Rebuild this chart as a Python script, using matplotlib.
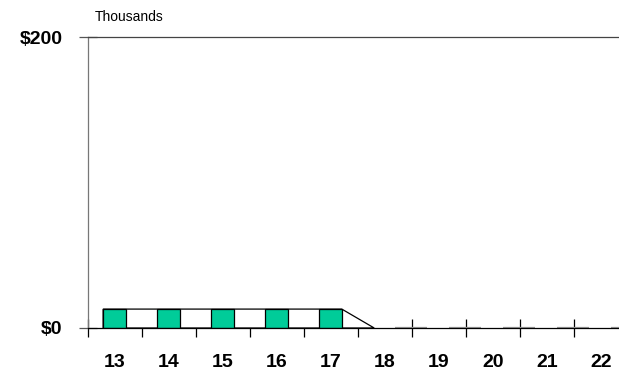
import matplotlib
matplotlib.use('Agg')
import matplotlib.pyplot as plt
import numpy as np

categories = ['13', '14', '15', '16', '17', '18', '19', '20', '21', '22']
green_values = [13, 13, 13, 13, 13, 0, 0, 0, 0, 0]
white_values = [13, 13, 13, 13, 13, 0, 0, 0, 0, 0]
y_ticks = [0, 200]
y_tick_labels = ['$0', '$200']
unit_label = 'Thousands'

plt.rcParams['font.family'] = ['Liberation Sans', 'DejaVu Sans']

fig = plt.figure(figsize=(6.19, 3.75), dpi=100)
ax = fig.add_axes([88/619, 47/375, 540/619, 291/375])
x = np.arange(len(categories))

# white outlined series behind the green bars
nz = [i for i, v in enumerate(white_values) if v > 0]
first, last = nz[0], nz[-1]
v = white_values[last]
ax.fill([x[first]-0.22, x[first]-0.22, x[last]+0.2, x[last]+0.8],
        [0, white_values[first], v, 0],
        facecolor='white', edgecolor='black', linewidth=0.9, zorder=2)
zero_idx = [i for i, v in enumerate(white_values) if v == 0]
ax.bar(x[zero_idx]+0.18, [white_values[i] for i in zero_idx], width=0.6, align='edge',
       color='white', edgecolor='#9a9a9a', linewidth=1.6, zorder=2)

gi = [i for i, v in enumerate(green_values) if v > 0]
ax.bar(x[gi]-0.22, [green_values[i] for i in gi], width=0.42, align='edge',
       color='#00CC99', edgecolor='black', linewidth=0.9, zorder=3)

ax.set_xlim(-0.5, len(categories)-0.5)
ax.set_ylim(0, 200)

ax.set_xticks(np.arange(len(categories)+1)-0.5)
ax.set_xticklabels([])
ax.set_xticks(x, minor=True)
ax.set_xticklabels(categories, minor=True, fontsize=14, fontweight='bold')
ax.tick_params(axis='x', which='major', direction='inout', length=13, width=0.9, color='black')
ax.tick_params(axis='x', which='minor', length=0, pad=19)

ax.set_yticks(y_ticks)
ax.set_yticklabels(y_tick_labels, fontsize=14, fontweight='bold')
ax.tick_params(axis='y', direction='inout', length=13, width=0.9, color='#555555', pad=12)

ax.spines['right'].set_visible(False)
ax.spines['left'].set_color('#777777')
ax.spines['top'].set_color('#444444')
ax.spines['bottom'].set_color('black')
for s in ax.spines.values():
    s.set_linewidth(0.9)
ax.spines['bottom'].set_zorder(4)

fig.text(95/619, 1-17/375, unit_label, fontsize=10, ha='left', va='center')

fig.savefig('out.png', dpi=100)
